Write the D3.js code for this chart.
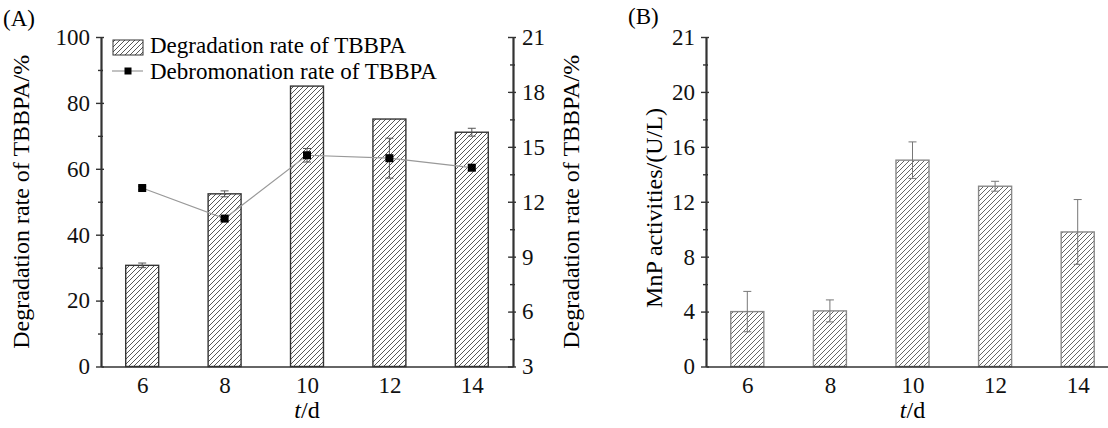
<!DOCTYPE html>
<html>
<head>
<meta charset="utf-8">
<script src="https://cdn.jsdelivr.net/npm/d3@7"></script>
<style>
  body { margin: 0; background: #fff; }
  svg { display: block; font-family: "Liberation Serif", "Times New Roman", serif; }
  .axis path, .axis line { stroke: #333; stroke-width: 1.4; }
  .axis text { font-family: "Liberation Serif", "Times New Roman", serif; font-size: 23px; fill: #111; }
</style>
</head>
<body>
<div id="chart"></div>
<script>
// Data

var days = [6, 8, 10, 12, 14];

// (A) degradation rate of TBBPA, %
var degradation = [30.7, 52.4, 85.1, 75.1, 71.1];
var degradationErr = [0.7, 0.9, 0, 0, 1.2];

// (A) debromonation rate of TBBPA, % (right axis)
var debromination = [12.75, 11.08, 14.54, 14.38, 13.86];
var debrominationErr = [0.1, 0.1, 0.37, 1.09, 0.15];

// (B) MnP activities, U/L
var mnp = [4.0, 4.05, 15.03, 13.13, 9.8];
var mnpErr = [1.47, 0.8, 1.33, 0.36, 2.36];

var leftTicks = [0, 20, 40, 60, 80, 100];
var leftMinor = [10, 30, 50, 70, 90];
var rightTicks = [3, 6, 9, 12, 15, 18, 21];
var rightMinor = [4.5, 7.5, 10.5, 13.5, 16.5, 19.5];
var mnpTicks = [0, 4, 8, 12, 16, 20, 24];
var mnpTickLabels = ["0", "4", "8", "12", "16", "20", "21"];
var mnpMinor = [2, 6, 10, 14, 18, 22];

var W = 1108, H = 428;
var plotTop = 37, plotBottom = 366.5;
var barW = 0.8; // in days

var svg = d3.select("#chart").append("svg")
    .attr("width", W)
    .attr("height", H);

// hatch pattern
var defs = svg.append("defs");
function hatch(id, color) {
  defs.append("pattern")
      .attr("id", id)
      .attr("patternUnits", "userSpaceOnUse")
      .attr("width", 5)
      .attr("height", 5)
    .append("path")
      .attr("d", "M-1,1 l2,-2 M0,5 l5,-5 M4,6 l2,-2")
      .attr("stroke", color)
      .attr("stroke-width", 0.9);
}
hatch("hatchA", "#444");
hatch("hatchB", "#555");

// ticks that cross the axis line: outer ones carry labels, inner ones are bare
function yTicks(g, x, scale, side, major, minor, fmt) {
  var mk = side === "left" ? d3.axisLeft : d3.axisRight;
  var outer = side === "left" ? 1 : -1;
  var a = mk(scale).tickValues(major).tickSize(5 * outer).tickSizeOuter(0)
      .tickPadding(side === "left" ? 6 : 9);
  if (fmt) a.tickFormat(fmt);
  g.append("g").attr("class", "axis").attr("transform", "translate(" + x + ",0)").call(a);
  g.append("g").attr("class", "axis").attr("transform", "translate(" + x + ",0)")
      .call(mk(scale).tickValues(major).tickSize(-3 * outer).tickSizeOuter(0).tickFormat(""));
  g.append("g").attr("class", "axis").attr("transform", "translate(" + x + ",0)")
      .call(mk(scale).tickValues(minor).tickSize(3 * outer).tickSizeOuter(0).tickFormat(""));
  g.append("g").attr("class", "axis").attr("transform", "translate(" + x + ",0)")
      .call(mk(scale).tickValues(minor).tickSize(-2 * outer).tickSizeOuter(0).tickFormat(""));
}

// error bars with caps
function errBars(g, xs, vals, errs, xScale, yScale, color, cap) {
  var e = g.append("g").attr("stroke", color).attr("stroke-width", 1);
  xs.forEach(function(d, i) {
    if (!errs[i]) return;
    var x = xScale(d), y1 = yScale(vals[i] - errs[i]), y2 = yScale(vals[i] + errs[i]);
    e.append("line").attr("x1", x).attr("x2", x).attr("y1", y1).attr("y2", y2);
    e.append("line").attr("x1", x - cap).attr("x2", x + cap).attr("y1", y1).attr("y2", y1);
    e.append("line").attr("x1", x - cap).attr("x2", x + cap).attr("y1", y2).attr("y2", y2);
  });
}

// ---------- Panel A ----------
var xA = d3.scaleLinear().domain([5, 15]).range([101, 513]);
var yA = d3.scaleLinear().domain([0, 100]).range([plotBottom, plotTop]);
var yA2 = d3.scaleLinear().domain([3, 21]).range([plotBottom, plotTop]);

var gA = svg.append("g");

gA.selectAll(".barA")
    .data(days)
    .enter().append("rect")
    .attr("class", "barA")
    .attr("x", function(d) { return xA(d - barW / 2); })
    .attr("width", function(d) { return xA(d + barW / 2) - xA(d - barW / 2); })
    .attr("y", function(d, i) { return yA(degradation[i]); })
    .attr("height", function(d, i) { return yA(0) - yA(degradation[i]); })
    .attr("fill", "url(#hatchA)")
    .attr("stroke", "#333")
    .attr("stroke-width", 1.4);

errBars(gA, days, degradation, degradationErr, xA, yA, "#555", 4);

// debromination line
var line = d3.line()
    .x(function(d) { return xA(d); })
    .y(function(d, i) { return yA2(debromination[i]); });

gA.append("path")
    .datum(days)
    .attr("d", line)
    .attr("fill", "none")
    .attr("stroke", "#999")
    .attr("stroke-width", 1.2);

errBars(gA, days, debromination, debrominationErr, xA, yA2, "#555", 4);

gA.selectAll(".pt")
    .data(days)
    .enter().append("rect")
    .attr("class", "pt")
    .attr("x", function(d) { return xA(d) - 4; })
    .attr("y", function(d, i) { return yA2(debromination[i]) - 4; })
    .attr("width", 8)
    .attr("height", 8)
    .attr("fill", "#000");

// axes A
yTicks(gA, xA(5), yA, "left", leftTicks, leftMinor);
yTicks(gA, xA(15), yA2, "right", rightTicks, rightMinor);

gA.append("g").attr("class", "axis")
    .attr("transform", "translate(0," + yA(0) + ")")
    .call(d3.axisBottom(xA).tickValues(days).tickSize(0).tickSizeOuter(0).tickPadding(10));

// titles A
gA.append("text")
    .attr("transform", "translate(29," + (plotTop + plotBottom) / 2 + ") rotate(-90)")
    .attr("text-anchor", "middle")
    .style("font-size", "24px")
    .text("Degradation rate of TBBPA/%");

gA.append("text")
    .attr("transform", "translate(579," + (plotTop + plotBottom) / 2 + ") rotate(-90)")
    .attr("text-anchor", "middle")
    .style("font-size", "24px")
    .text("Degradation rate of TBBPA/%");

var tA = gA.append("text")
    .attr("x", xA(10))
    .attr("y", 418)
    .attr("text-anchor", "middle")
    .style("font-size", "24px");
tA.append("tspan").style("font-style", "italic").text("t");
tA.append("tspan").text("/d");

gA.append("text")
    .attr("x", 3)
    .attr("y", 26)
    .style("font-size", "23px")
    .text("(A)");

// legend A
var leg = gA.append("g");
leg.append("rect")
    .attr("x", 113).attr("y", 40).attr("width", 30).attr("height", 15)
    .attr("fill", "url(#hatchA)").attr("stroke", "#333").attr("stroke-width", 1);
leg.append("text")
    .attr("x", 150).attr("y", 53)
    .style("font-size", "23px")
    .text("Degradation rate of TBBPA");
leg.append("line")
    .attr("x1", 112).attr("x2", 143).attr("y1", 71).attr("y2", 71)
    .attr("stroke", "#999").attr("stroke-width", 1.2);
leg.append("rect")
    .attr("x", 124.5).attr("y", 67.5).attr("width", 7).attr("height", 7)
    .attr("fill", "#000");
leg.append("text")
    .attr("x", 150).attr("y", 79)
    .style("font-size", "23px")
    .text("Debromonation rate of TBBPA");

// ---------- Panel B ----------
var xB = d3.scaleLinear().domain([5, 15]).range([706, 1119]);
var yB = d3.scaleLinear().domain([0, 24]).range([plotBottom, plotTop]);

var gB = svg.append("g");

gB.selectAll(".barB")
    .data(days)
    .enter().append("rect")
    .attr("class", "barB")
    .attr("x", function(d) { return xB(d - barW / 2); })
    .attr("width", function(d) { return xB(d + barW / 2) - xB(d - barW / 2); })
    .attr("y", function(d, i) { return yB(mnp[i]); })
    .attr("height", function(d, i) { return yB(0) - yB(mnp[i]); })
    .attr("fill", "url(#hatchB)")
    .attr("stroke", "#888")
    .attr("stroke-width", 1.4);

errBars(gB, days, mnp, mnpErr, xB, yB, "#777", 4);

yTicks(gB, xB(5), yB, "left", mnpTicks, mnpMinor, function(d, i) { return mnpTickLabels[i]; });

gB.append("g").attr("class", "axis")
    .attr("transform", "translate(0," + yB(0) + ")")
    .call(d3.axisBottom(xB).tickValues(days).tickSize(0).tickSizeOuter(0).tickPadding(10));

gB.append("text")
    .attr("transform", "translate(662,208) rotate(-90)")
    .attr("text-anchor", "middle")
    .style("font-size", "24px")
    .text("MnP activities/(U/L)");

var tB = gB.append("text")
    .attr("x", xB(10))
    .attr("y", 418)
    .attr("text-anchor", "middle")
    .style("font-size", "24px");
tB.append("tspan").style("font-style", "italic").text("t");
tB.append("tspan").text("/d");

gB.append("text")
    .attr("x", 628)
    .attr("y", 24)
    .style("font-size", "23px")
    .text("(B)");
</script>
</body>
</html>
